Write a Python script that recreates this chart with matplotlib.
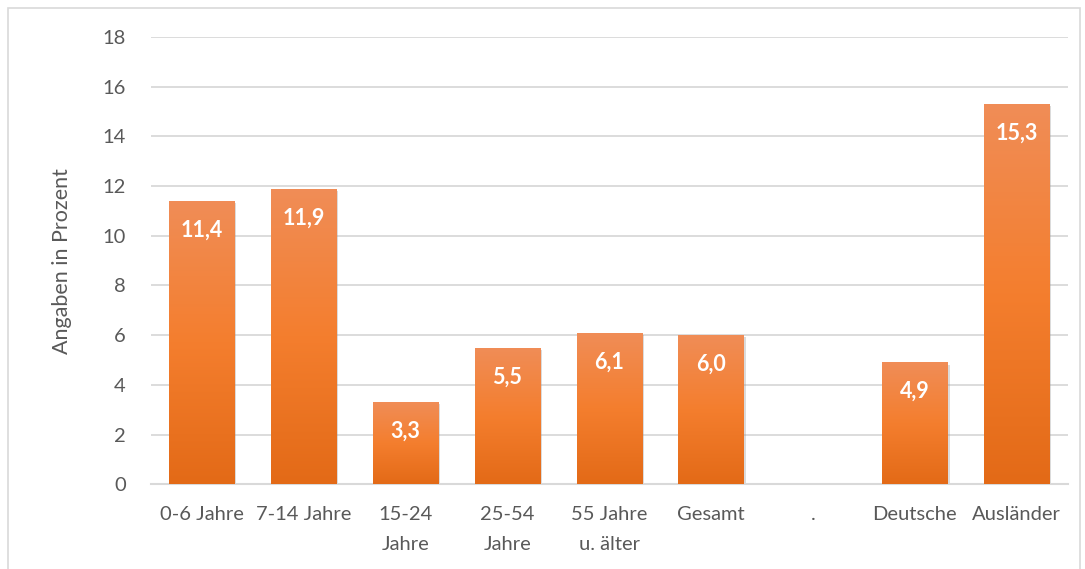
import numpy as np
import matplotlib.pyplot as plt
from matplotlib.patches import Rectangle
from matplotlib.colors import LinearSegmentedColormap
import matplotlib.patheffects as pe

plt.rcParams['font.family'] = ['Lato', 'DejaVu Sans']

# data
kategorien = ['0-6 Jahre', '7-14 Jahre', '15-24\nJahre', '25-54\nJahre', '55 Jahre\nu. älter',
              'Gesamt', '.', 'Deutsche', 'Ausländer']
werte = [11.4, 11.9, 3.3, 5.5, 6.1, 6.0, np.nan, 4.9, 15.3]
y_ticks = [0, 2, 4, 6, 8, 10, 12, 14, 16, 18]

fig = plt.figure(figsize=[10.85, 5.69], dpi=100)
ax = fig.add_axes([0.139, 0.149, 0.845, 0.786])

# outer chart border
fig.add_artist(Rectangle((8/1085, -0.02), 1072/1085, 1 - 8/569 + 0.02, transform=fig.transFigure,
                         fill=False, edgecolor='#D9D9D9', linewidth=1.2))

x = np.arange(len(kategorien))
bars = ax.bar(x, werte, width=0.64, color='#F47F2E', zorder=2,
              path_effects=[pe.SimplePatchShadow(offset=(1.5, -1.5), shadow_rgbFace='#999999', alpha=0.35),
                            pe.Normal()])

# gradient fill
cmap = LinearSegmentedColormap.from_list('orange', ['#E36A17', '#F47E2E', '#F08D57'])
grad = np.linspace(0, 1, 256).reshape(-1, 1)
for b in bars:
    h = b.get_height()
    if np.isnan(h):
        continue
    x0 = b.get_x()
    im = ax.imshow(grad, cmap=cmap, origin='lower', aspect='auto',
                   extent=[x0, x0 + b.get_width(), 0, h], zorder=3)
    im.set_clip_path(b)

for xi, v in zip(x, werte):
    if np.isnan(v):
        continue
    ax.annotate(('%.1f' % v).replace('.', ','), (xi, v), xytext=(0, -21), textcoords='offset points',
                ha='center', va='center', color='white', fontsize=15.5, fontweight='bold', zorder=4)

ax.set_xlim(-0.5, len(kategorien) - 0.5)
ax.set_ylim(0, 18)
ax.set_yticks(y_ticks)
ax.set_xticks(x)
ax.set_xticklabels(kategorien, linespacing=1.9)
ax.tick_params(axis='both', length=0, labelsize=14.5, labelcolor='#595959')
ax.tick_params(axis='x', pad=16)
ax.tick_params(axis='y', pad=18)
ax.grid(axis='y', color='#D9D9D9', linewidth=1.3, zorder=0)
ax.set_axisbelow(True)
for s in ['top', 'right', 'left']:
    ax.spines[s].set_visible(False)
ax.spines['bottom'].set_color('#D9D9D9')
ax.spines['bottom'].set_linewidth(1.5)
ax.set_ylabel('Angaben in Prozent', fontsize=15.5, color='#595959', labelpad=22)

plt.savefig('out.png', dpi=100)
